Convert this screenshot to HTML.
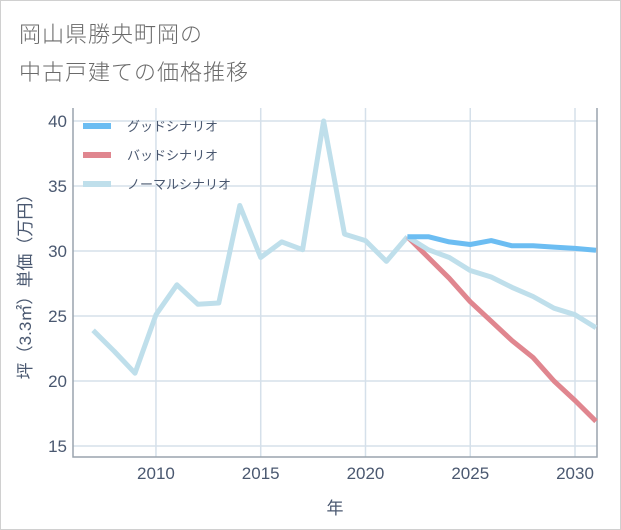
<!DOCTYPE html>
<html><head><meta charset="utf-8"><style>
body{margin:0;background:#fff;}
#wrap{position:relative;width:619px;height:528px;border:1px solid #d0d0d0;background:#fff;font-family:"Liberation Sans","Noto Sans CJK JP",sans-serif;}
.title{position:absolute;left:18px;color:#6a6a6a;font-size:22px;letter-spacing:1px;font-weight:300;}
</style></head><body>
<div id="wrap">
<div class="title" style="top:16px">岡山県勝央町岡の</div>
<div class="title" style="top:54px">中古戸建ての価格推移</div>
<svg id="chart" width="621" height="530" style="position:absolute;left:-1px;top:-1px"></svg>
</div>
<script>
const histYears=[2007,2008,2009,2010,2011,2012,2013,2014,2015,2016,2017,2018,2019,2020,2021,2022];
const histValues=[23.9,22.3,20.6,25.1,27.4,25.9,26.0,33.5,29.5,30.7,30.1,40.0,31.3,30.8,29.2,31.1];
const forecastYears=[2022,2023,2024,2025,2026,2027,2028,2029,2030,2031];
const goodValues=[31.1,31.1,30.7,30.5,30.8,30.4,30.4,30.3,30.2,30.05];
const badValues=[31.1,29.5,27.9,26.1,24.6,23.1,21.8,20.0,18.5,16.9];
const normalValues=[31.1,30.1,29.5,28.5,28.0,27.2,26.5,25.6,25.1,24.1];
const yTicks=[15,20,25,30,35,40];
const xTicks=[2010,2015,2020,2025,2030];
const legendLabels=["グッドシナリオ","バッドシナリオ","ノーマルシナリオ"];
const legendColors=["#6cbdf2","#e0868f","#bfdfeb"];

const svg=document.getElementById('chart');
const NS='http://www.w3.org/2000/svg';
const L=73,R=597,T=108,B=457;
const X0=2006.04,X1=2031.05,Y0=14.15,Y1=41;
const TXT='#4a5870';
const xs=v=>L+(v-X0)/(X1-X0)*(R-L);
const ys=v=>B-(v-Y0)/(Y1-Y0)*(B-T);
function mk(tag,attrs){const e=document.createElementNS(NS,tag);for(const k in attrs)e.setAttribute(k,attrs[k]);svg.appendChild(e);return e;}

yTicks.forEach(t=>{
  const l=mk('line',{x1:L,x2:R,y1:ys(t),y2:ys(t),stroke:'#d5e0ea','stroke-width':1.5});
  
  
  const tx=mk('text',{x:L-6,y:ys(t)+6,'text-anchor':'end','font-size':17,fill:TXT});
  tx.textContent=t;
  
  
});
xTicks.forEach(t=>{
  const l=mk('line',{x1:xs(t),x2:xs(t),y1:T,y2:B,stroke:'#d5e0ea','stroke-width':1.5});
  
  
  const tx=mk('text',{x:xs(t),y:B+22,'text-anchor':'middle','font-size':17,fill:TXT});
  tx.textContent=t;
  
  
});
const ax=mk('path',{d:`M${L},${T} V${B} H${R} V${T}`,fill:'none',stroke:'#9aa4ad','stroke-width':1.5});



function series(xsArr,vals,color,name){
  const d=vals.map((v,i)=>(i?'L':'M')+xs(xsArr[i]).toFixed(1)+','+ys(v).toFixed(1)).join(' ');
  const p=mk('path',{d:d,fill:'none',stroke:color,'stroke-width':5,'stroke-linejoin':'round'});
  
  
}
series(histYears,histValues,legendColors[2],'normal-history-line');
series(forecastYears,badValues,legendColors[1],'bad-scenario-line');
series(forecastYears,normalValues,legendColors[2],'normal-scenario-line');
series(forecastYears,goodValues,legendColors[0],'good-scenario-line');

legendLabels.forEach((lab,i)=>{
  const y=126+i*29;
  const l=mk('line',{x1:83,x2:111,y1:y,y2:y,stroke:legendColors[i],'stroke-width':6});
  
  
  const t=mk('text',{x:127,y:y+5,'font-size':13,fill:TXT});
  t.textContent=lab;
  
  
});
const xt=mk('text',{x:(L+R)/2,y:514,'text-anchor':'middle','font-size':17,fill:TXT});
xt.textContent='年';


const yt=mk('text',{x:0,y:0,'text-anchor':'middle','font-size':17,fill:TXT,transform:`translate(31,${(T+B)/2}) rotate(-90)`});
yt.textContent='坪（3.3㎡）単価（万円）';


</script>
</body></html>
